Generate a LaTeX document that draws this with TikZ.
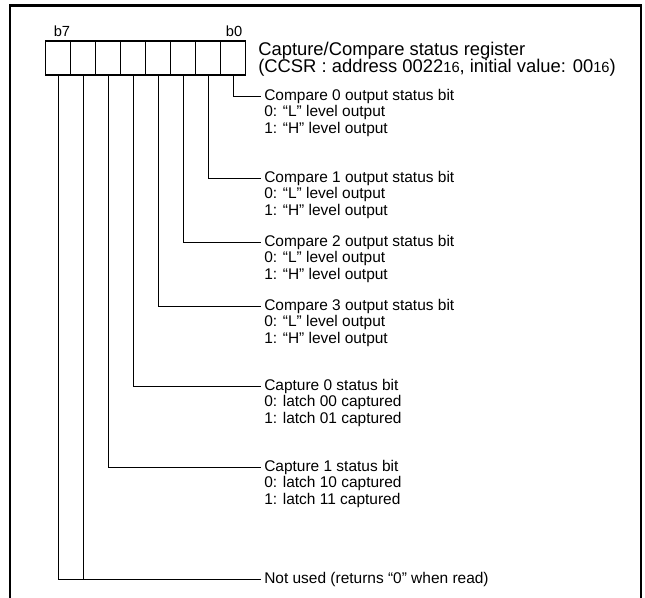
\documentclass[tikz,border=0pt]{standalone}
\usepackage{fontspec}
\setmainfont{Liberation Sans}
\begin{document}
\begin{tikzpicture}[x=0.75pt,y=-0.75pt,
  txt/.style={font=\fontsize{11.6}{13}\selectfont},
  lbl/.style={txt, anchor=base west, inner xsep=2.25pt, inner ysep=0pt, text height=8pt, text depth=2.5pt},
  hdr/.style={font=\fontsize{13.8}{15}\selectfont, anchor=base west, inner sep=0pt},
  sub/.style={},
  bitlbl/.style={font=\fontsize{11}{12}\selectfont, inner sep=0pt},
  cell/.style={draw, line width=0.8pt, minimum width=18.75pt, minimum height=25.5pt, inner sep=0pt, outer sep=0pt},
  lead/.style={line width=0.75pt},
  frame/.style={line width=1.6pt}]
\useasboundingbox (0,0) rectangle (645,597);
\draw[frame] (10,600) -- (10,5.5) -- (641,5.5) -- (641,600);
% register cells r0 (b0) ... r7 (b7)
\foreach \i in {0,...,7} { \node[cell] (r\i) at ({233-25*\i},58) {}; }
\node[bitlbl] (lb7) at (62,31) {b7};
\node[bitlbl] (lb0) at (234,31) {b0};
\node[hdr] (h1) at (258,55) {Capture/Compare status register};
\node[hdr] (h2) at (258,72) {(CCSR : address 0022{\fontsize{11}{12}\selectfont 16}, initial value: 00{\fontsize{11}{12}\selectfont 16})};
% bit 0
\node[lbl] (c0) at (261,100) {Compare 0 output status bit};
\node[lbl] (c0a) at (261,116.5) {0: “L” level output};
\node[lbl] (c0b) at (261,133) {1: “H” level output};
% bit 1
\node[lbl] (c1) at (261,182) {Compare 1 output status bit};
\node[lbl] (c1a) at (261,198.5) {0: “L” level output};
\node[lbl] (c1b) at (261,215) {1: “H” level output};
% bit 2
\node[lbl] (c2) at (261,246) {Compare 2 output status bit};
\node[lbl] (c2a) at (261,262.5) {0: “L” level output};
\node[lbl] (c2b) at (261,279) {1: “H” level output};
% bit 3
\node[lbl] (c3) at (261,310) {Compare 3 output status bit};
\node[lbl] (c3a) at (261,326.5) {0: “L” level output};
\node[lbl] (c3b) at (261,343) {1: “H” level output};
% bit 4
\node[lbl] (p0) at (261,390) {Capture 0 status bit};
\node[lbl] (p0a) at (261,406.5) {0: latch 00 captured};
\node[lbl] (p0b) at (261,423) {1: latch 01 captured};
% bit 5
\node[lbl] (p1) at (261,471) {Capture 1 status bit};
\node[lbl] (p1a) at (261,487.5) {0: latch 10 captured};
\node[lbl] (p1b) at (261,504) {1: latch 11 captured};
% bits 6, 7
\node[lbl] (nu) at (261,583) {Not used (returns “0” when read)};
% leads
\draw[lead] (r0.south) |- (c0.west);
\draw[lead] (r1.south) |- (c1.west);
\draw[lead] (r2.south) |- (c2.west);
\draw[lead] (r3.south) |- (c3.west);
\draw[lead] (r4.south) |- (p0.west);
\draw[lead] (r5.south) |- (p1.west);
\draw[lead] (r7.south) |- (nu.west);
\draw[lead] (r6.south) -- (r6.south |- nu.west);
\end{tikzpicture}
\end{document}
